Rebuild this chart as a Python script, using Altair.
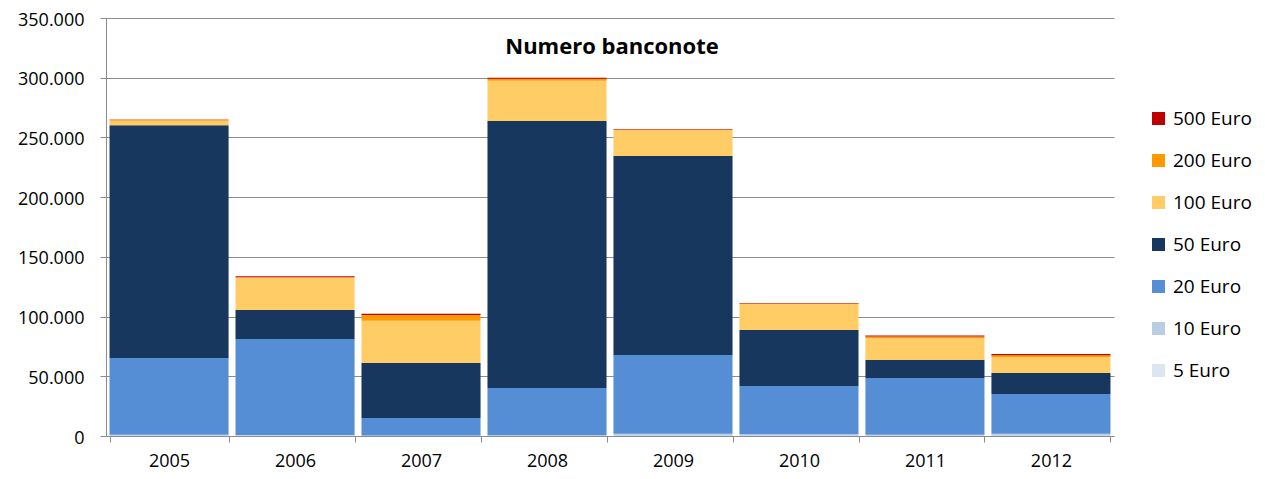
import altair as alt
import pandas as pd

years = ["2005", "2006", "2007", "2008", "2009", "2010", "2011", "2012"]
denoms = ["500 Euro", "200 Euro", "100 Euro", "50 Euro", "20 Euro", "10 Euro", "5 Euro"]
colors = ["#C00000", "#FF9900", "#FFCC66", "#17375E", "#558ED5", "#B9CDE5", "#DCE6F2"]

e5 = [300, 200, 100, 200, 300, 300, 200, 300]
e10 = [700, 600, 300, 500, 1500, 1200, 900, 1500]
e20 = [64300, 80400, 14600, 39500, 66000, 40400, 47400, 33400]
e50 = [195000, 24300, 46100, 223500, 166600, 46800, 15100, 17500]
e100 = [3700, 27000, 35400, 33700, 21700, 21800, 18200, 13400]
e200 = [800, 500, 4800, 1700, 500, 400, 1600, 1500]
e500 = [300, 700, 1000, 900, 500, 400, 800, 1000]

series = {
    "5 Euro": e5, "10 Euro": e10, "20 Euro": e20, "50 Euro": e50,
    "100 Euro": e100, "200 Euro": e200, "500 Euro": e500,
}
stack_order = ["5 Euro", "10 Euro", "20 Euro", "50 Euro", "100 Euro", "200 Euro", "500 Euro"]

rows = []
for name, vals in series.items():
    for y, v in zip(years, vals):
        rows.append({"year": y, "taglio": name, "n": v, "ord": stack_order.index(name)})
df = pd.DataFrame(rows)

FONT = "Open Sans"
W, H = 1008, 418

bars = alt.Chart(df).mark_bar().encode(
    x=alt.X("year:N", title=None, sort=years,
            scale=alt.Scale(paddingInner=0.055, paddingOuter=0.028),
            axis=alt.Axis(labelAngle=0, labelFont=FONT, labelFontSize=18, labelColor="#000000",
                          tickBand="extent", tickSize=6, tickColor="#8C8C8C",
                          domainColor="#8C8C8C", labelPadding=10, grid=False)),
    y=alt.Y("n:Q", title=None, stack="zero",
            scale=alt.Scale(domain=[0, 350000], nice=False),
            axis=alt.Axis(values=[0, 50000, 100000, 150000, 200000, 250000, 300000, 350000],
                          labelExpr="datum.value == 0 ? '0' : format(datum.value / 1000, '.3f')",
                          labelFont=FONT, labelFontSize=18, labelColor="#000000",
                          labelOffset=2,
                          tickSize=6, tickColor="#8C8C8C", domainColor="#8C8C8C",
                          gridColor="#8C8C8C", gridWidth=1, labelPadding=16)),
    color=alt.Color("taglio:N", title=None,
                    scale=alt.Scale(domain=denoms, range=colors),
                    legend=alt.Legend(orient="none", legendX=1043, legendY=91,
                                      symbolType="square", symbolSize=169,
                                      symbolStrokeWidth=0,
                                      labelFont=FONT, labelFontSize=19, labelColor="#000000",
                                      labelOffset=5, rowPadding=22)),
    order=alt.Order("ord:Q", sort="ascending"),
)

title = alt.Chart(pd.DataFrame({"t": ["Numero banconote"]})).mark_text(
    font=FONT, fontSize=22, fontWeight="bold", color="#000000", baseline="middle", align="center"
).encode(text="t:N", x=alt.value(W / 2 + 2), y=alt.value(29))

chart = alt.layer(bars, title).properties(
    width=W, height=H,
    autosize=alt.AutoSizeParams(type="none"),
    padding={"left": 98, "top": 10, "right": 143, "bottom": 35},
).configure_view(stroke=None)

chart.save("out.html", embed_options={"renderer": "svg", "actions": False})
